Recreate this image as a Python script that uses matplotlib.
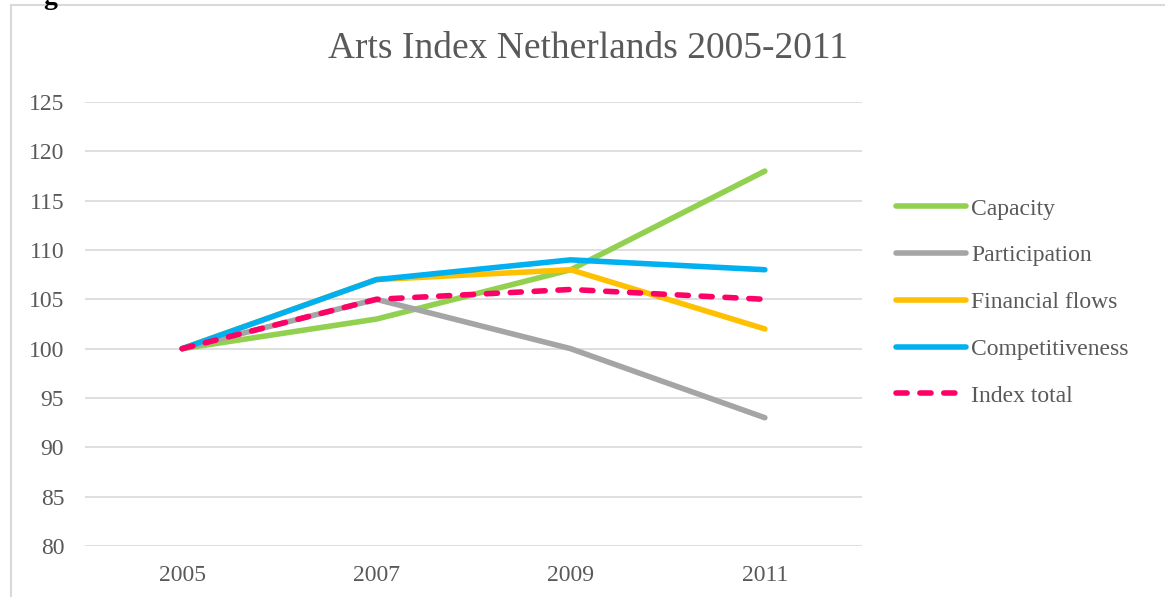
import matplotlib.pyplot as plt
from matplotlib.patches import Rectangle

plt.rcParams['font.family'] = ['Liberation Serif', 'DejaVu Serif']

years = ['2005', '2007', '2009', '2011']
capacity = [100, 103, 108, 118]
participation = [100, 105, 100, 93]
financial_flows = [100, 107, 108, 102]
competitiveness = [100, 107, 109, 108]
index_total = [100, 105, 106, 105]

series = [
    ("Capacity", capacity, '#92D050', '-'),
    ("Participation", participation, '#A5A5A5', '-'),
    ("Financial flows", financial_flows, '#FFC000', '-'),
    ("Competitiveness", competitiveness, '#00B0F0', '-'),
    ("Index total", index_total, '#FF0066', (0, (2.0, 2.3))),
]

fig = plt.figure(figsize=(11.65, 5.97), dpi=100)
ax = fig.add_axes([85 / 1165, 51 / 597, 777 / 1165, 444 / 597])

# chart border (cut off on the right and bottom in the original)
fig.patches.append(Rectangle((11 / 1165, -0.05), 1.2, 1.05 - 5 / 597, transform=fig.transFigure,
                             fill=False, edgecolor='#D9D9D9', linewidth=1.5))
fig.text(50 / 1165, 1.005, "g", fontsize=20, fontweight='bold', color='black', ha='center', va='center')

x = range(len(years))
for name, vals, col, ls in series:
    ax.plot(x, vals, color=col, linestyle=ls, linewidth=4, label=name,
            solid_capstyle='round', dash_capstyle='round', solid_joinstyle='round')

ax.set_xlim(-0.5, 3.5)
ax.set_ylim(80, 125)
ax.set_yticks(range(80, 126, 5))
ax.set_xticks(list(x))
ax.set_xticklabels(years)
ax.grid(axis='y', color='#D9D9D9', linewidth=1.2)
ax.set_axisbelow(True)
for s in ax.spines.values():
    s.set_visible(False)
ax.tick_params(length=0, labelsize=17, labelcolor='#595959')
ax.tick_params(axis='y', pad=15)
ax.tick_params(axis='x', pad=14)

fig.text(588 / 1165, 1 - 49 / 597, "Arts Index Netherlands 2005-2011", fontsize=27,
         color='#595959', ha='center', va='center')

leg = ax.legend(loc='upper left', bbox_to_anchor=(1.031, 0.805), frameon=False,
                fontsize=17, labelcolor='#595959', handlelength=3.0, handletextpad=0.2,
                labelspacing=1.07, borderaxespad=0)

fig.savefig('out.png', dpi=100)
